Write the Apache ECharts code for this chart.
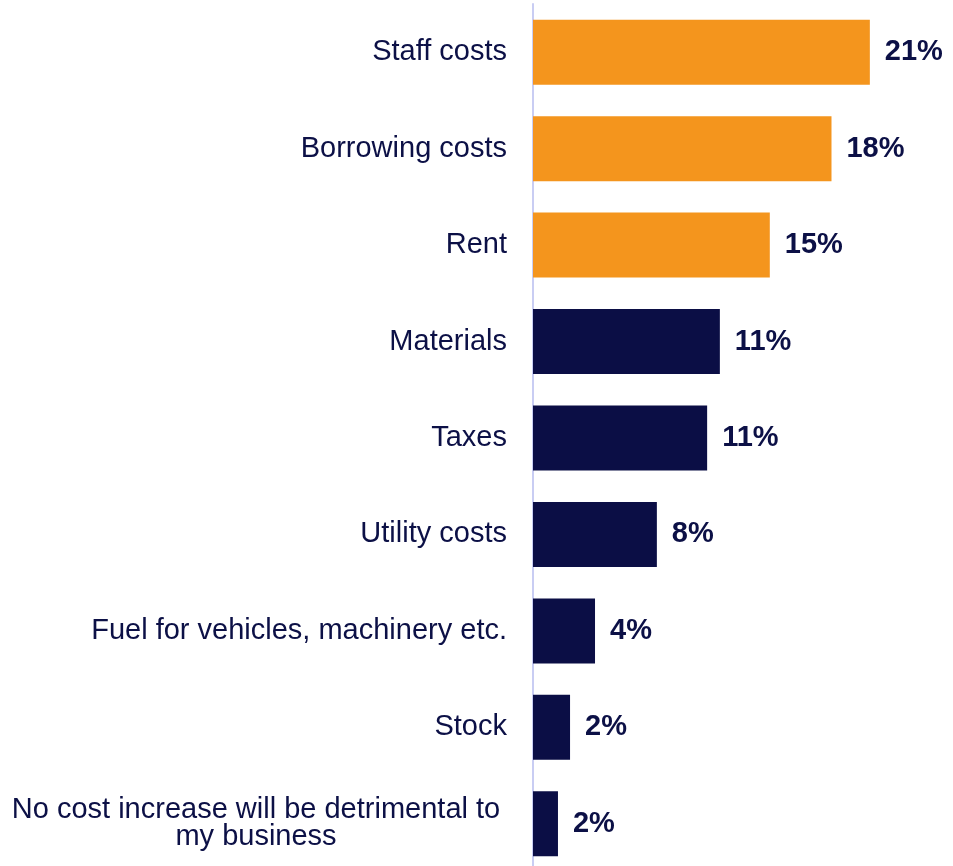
<!DOCTYPE html>
<html>
<head>
<meta charset="utf-8">
<script src="https://cdn.jsdelivr.net/npm/echarts@6/dist/echarts.min.js"></script>
<style>
html,body{margin:0;padding:0;background:#fff;}
#chart{width:953px;height:866px;}
</style>
</head>
<body>
<div id="chart"></div>
<script>
const categories = [
  "Staff costs",
  "Borrowing costs",
  "Rent",
  "Materials",
  "Taxes",
  "Utility costs",
  "Fuel for vehicles, machinery etc.",
  "Stock",
  "No cost increase will be detrimental to\nmy business"
];
const values = [20.64, 18.29, 14.51, 11.45, 10.67, 7.59, 3.80, 2.27, 1.53];
const highlighted = [true, true, true, false, false, false, false, false, false];

const ORANGE = '#F4951D';
const NAVY = '#0B0E45';
const TEXT = '#0C1046';
const FONT = '"Liberation Sans", Arial, sans-serif';

const chart = echarts.init(document.getElementById('chart'));
chart.setOption({
  animation: false,
  backgroundColor: '#ffffff',
  grid: { left: 533, right: 12, top: 4, height: 868, containLabel: false, outerBoundsMode: 'none' },
  xAxis: {
    type: 'value', min: 0, max: 25,
    show: false
  },
  yAxis: {
    type: 'category',
    inverse: true,
    data: categories.map((c, i) => i === categories.length - 1
      ? { value: c, textStyle: { align: 'center', padding: [0, 502, 16, 0] } }
      : c),
    axisLine: { show: true, lineStyle: { color: '#C9CDF3', width: 2 } },
    axisTick: { show: false },
    splitLine: { show: false },
    axisLabel: {
      margin: 26,
      fontFamily: FONT,
      fontSize: 29,
      color: TEXT,
      lineHeight: 27
    }
  },
  series: [{
    type: 'bar',
    barWidth: 65,
    data: values.map((v, i) => ({
      value: v,
      itemStyle: { color: highlighted[i] ? ORANGE : NAVY }
    })),
    label: {
      show: true,
      position: 'right',
      distance: 15,
      fontFamily: FONT,
      fontSize: 29,
      fontWeight: 'bold',
      color: TEXT,
      formatter: p => Math.round(p.value) + '%'
    }
  }]
});
</script>
</body>
</html>
